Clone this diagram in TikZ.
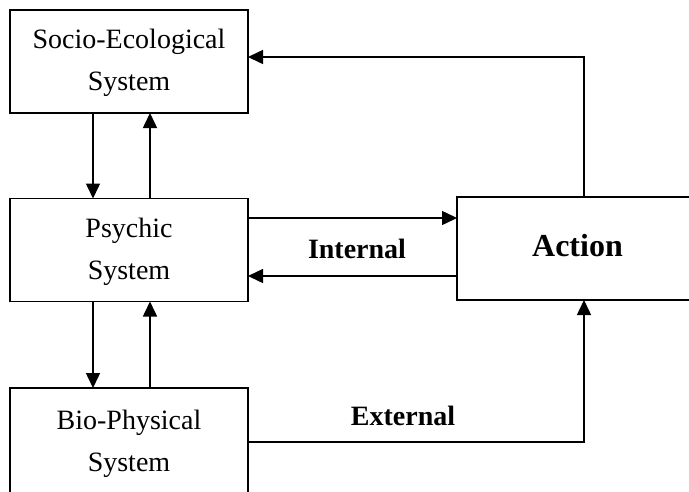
\documentclass[tikz,border=0pt]{standalone}
\usepackage{fontspec}
\setmainfont{Liberation Serif}
\usetikzlibrary{arrows.meta}
\begin{document}
\begin{tikzpicture}[x=1pt,y=-1pt,
  every node/.style={inner sep=0pt,outer sep=0pt},
  sysbox/.style={draw,line width=1.5pt,minimum width=238pt,minimum height=103pt,align=center,
    font=\fontsize{28}{42}\selectfont},
  actbox/.style={draw,line width=1.5pt,minimum width=241pt,minimum height=103pt,align=center,
    font=\fontsize{32}{38}\selectfont\bfseries},
  lbl/.style={anchor=base,font=\fontsize{28}{34}\selectfont\bfseries},
  arr/.style={line width=1.5pt,-{Triangle[length=15pt,width=14pt]}},
  ln/.style={line width=1.5pt}]
\useasboundingbox (0,0) rectangle (689,491);
\clip (0,0) rectangle (689,491);
\node[sysbox] (socio) at (129,61.5) {\strut Socio-Ecological\\System\strut};
\node[sysbox] (psychic) at (129,250) {\strut Psychic\\System\strut};
\node[sysbox,minimum height=108pt] (bio) at (129,442) {\strut Bio-Physical\\System\strut};
\node[actbox] (action) at (577.5,248.5) {\strut Action};
\coordinate (xa) at (93,0);
\coordinate (xb) at (150,0);
\coordinate (top) at (584,57);
\coordinate (bot) at (584,442);
\coordinate (yin) at (0,218);
\coordinate (yout) at (0,276);
\draw[arr] (socio.south -| xa) -- (psychic.north -| xa);
\draw[arr] (psychic.north -| xb) -- (socio.south -| xb);
\draw[arr] (psychic.south -| xa) -- (bio.north -| xa);
\draw[arr] (bio.north -| xb) -- (psychic.south -| xb);
\draw[arr] (psychic.east |- yin) -- (action.west |- yin);
\draw[arr] (action.west |- yout) -- (psychic.east |- yout);
\draw[arr] (action.north -| top) |- (socio.east |- top);
\draw[arr] (bio.east |- bot) -| (action.south -| bot);
\node[lbl] (internal) at (357,258) {Internal};
\node[lbl] (external) at (403,425) {External};
\end{tikzpicture}
\end{document}
